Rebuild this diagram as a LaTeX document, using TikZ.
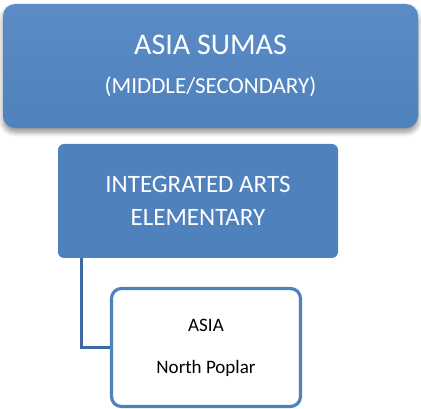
\documentclass[tikz,border=0pt]{standalone}
\usepackage{fontspec}
\setmainfont{Carlito}
\usetikzlibrary{shadows.blur}
\definecolor{accent}{HTML}{4F81BD}
\definecolor{accentlight}{HTML}{5B8CC7}
\definecolor{linkc}{HTML}{3D6A9F}
\tikzset{
  topbox/.style={rounded corners=12pt, top color=accentlight, bottom color=accent, draw=none,
    minimum width=415pt, minimum height=124pt, text=white, align=center, inner sep=0pt,
    font=\fontsize{30}{39}\selectfont,
    blur shadow={shadow xshift=0pt, shadow yshift=-4pt, shadow blur steps=8, shadow blur radius=5pt, shadow opacity=45}},
  midbox/.style={rounded corners=6pt, fill=accent, draw=none, minimum width=280pt, minimum height=114pt,
    text=white, align=center, inner sep=0pt, font=\fontsize{25}{33}\selectfont},
  leafbox/.style={rounded corners=10pt, fill=white, draw=accent, line width=3.2pt,
    minimum width=189pt, minimum height=118pt, text=black, align=center, inner sep=0pt,
    font=\fontsize{19}{42}\selectfont},
  link/.style={draw=linkc, line width=3pt}
}
\begin{document}
\begin{tikzpicture}[x=1pt,y=-1pt]
\useasboundingbox (0,0) rectangle (421,409);
\node[topbox] (top) at (210.5,66) {ASIA SUMAS\\{\fontsize{23}{39}\selectfont (MIDDLE/SECONDARY)}};
\node[midbox] (mid) at (198,201) {INTEGRATED ARTS\\ELEMENTARY};
\node[leafbox] (leaf) at (206,347.5) {ASIA\\North Poplar};
\draw[link] ([xshift=24pt]mid.south west) |- (leaf.west);
\end{tikzpicture}
\end{document}
